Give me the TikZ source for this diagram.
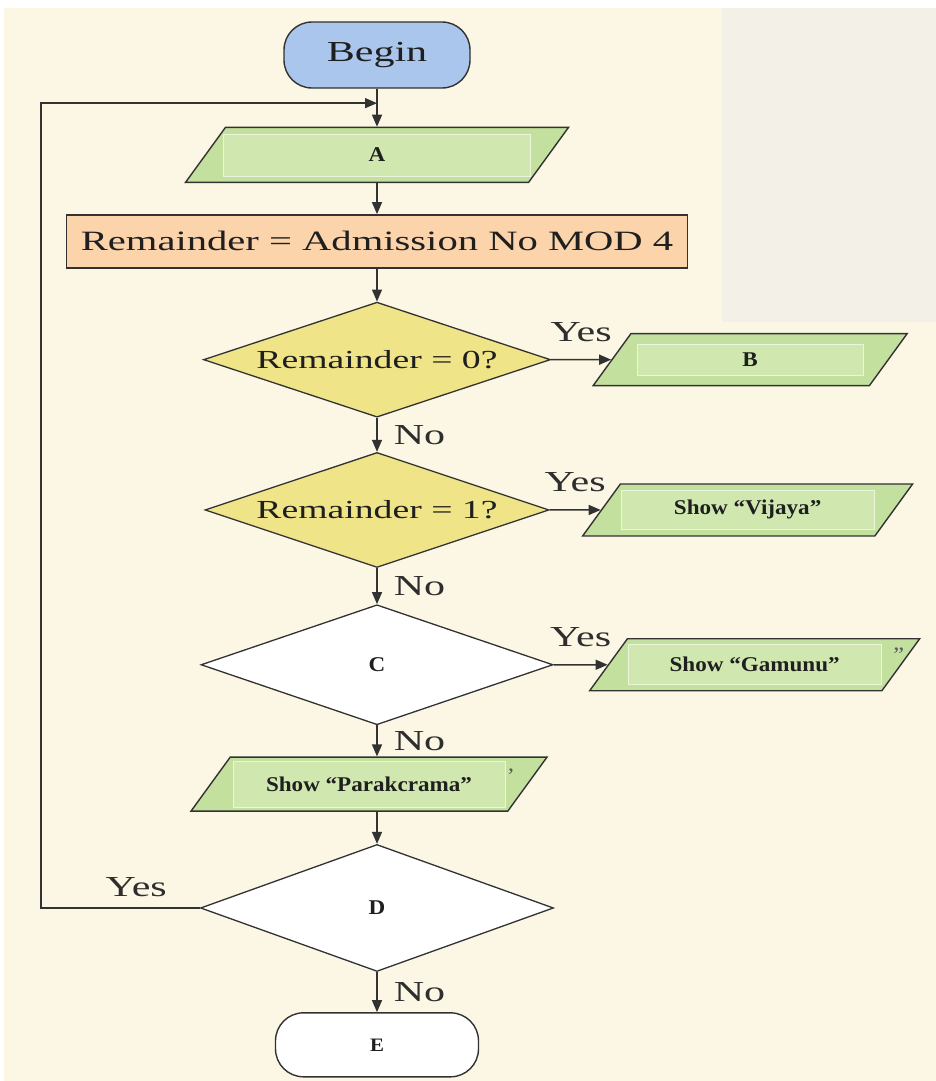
\documentclass[tikz,border=0pt]{standalone}
\usepackage{fontspec}
\setmainfont{Liberation Serif}[FakeStretch=1.45]
\newfontfamily\boxfont{Liberation Serif}[FakeStretch=1.1]
\usepackage{tikz}
\usetikzlibrary{shapes.geometric,arrows.meta,positioning,calc}
\definecolor{paper}{RGB}{251,247,228}
\definecolor{panel}{RGB}{243,240,232}
\definecolor{ink}{RGB}{50,50,50}
\definecolor{startblue}{RGB}{170,198,236}
\definecolor{peach}{RGB}{252,212,172}
\definecolor{khaki}{RGB}{240,228,136}
\definecolor{iogreen}{RGB}{196,224,158}
\definecolor{iolight}{RGB}{208,232,176}
\newcommand{\lblfont}{\boxfont\bfseries\fontsize{21}{24}\selectfont}
\newcommand{\iohigh}[1]{\rule{0pt}{#1}}

\begin{document}
\begin{tikzpicture}[x=1pt,y=1pt,
  term/.style={draw=ink,line width=1.4pt,rounded corners=28pt,minimum width=186pt,
    minimum height=66pt,text=black!88,font=\fontsize{29}{32}\selectfont},
  io/.style={trapezium,trapezium left angle=54,trapezium right angle=126,
    trapezium stretches body=true,draw=ink,line width=1.4pt,fill=iogreen,inner sep=2pt},
  iobox/.style={fill=iolight,draw=white!55!iolight,line width=0.8pt,inner sep=0pt,
    text=black!88,font=\lblfont},
  proc/.style={draw=ink,line width=1.4pt,fill=peach,minimum width=621pt,
    minimum height=53pt,text=black!88,font=\fontsize{28}{32}\selectfont},
  test/.style={diamond,aspect=3,inner sep=0pt,draw=ink,line width=1.3pt,text=black!88},
  arr/.style={-{Triangle[length=12pt,width=10pt]},line width=1.5pt,ink},
  ans/.style={font=\fontsize{29}{32}\selectfont,text=black!82,inner sep=2pt},
  stray/.style={font=\boxfont\fontsize{22}{24}\selectfont,text=black!65,inner sep=0pt},
  node distance=35pt,
]
  \useasboundingbox (0,0) rectangle (936,-1081);
  \fill[white] (0,0) rectangle (936,-1081);
  \fill[paper] (4,-8) rectangle (936,-1081);
  \fill[panel] (722,-8) rectangle (936,-322);

  \node[term,fill=startblue] (begin) at (377,-55) {Begin};
  \node[io,minimum width=383pt,below=38pt of begin] (a) {\iohigh{51pt}};
  \node[iobox,minimum width=307pt,minimum height=42pt] (a-txt) at (a) {A};
  \node[proc,below=31pt of a] (rem) {Remainder = Admission No MOD 4};
  \node[test,fill=khaki,minimum width=347pt,minimum height=115pt,below=33pt of rem,
    font=\fontsize{26}{30}\selectfont] (zero) {Remainder = 0?};
  \node[io,minimum width=314pt,right=60pt of zero] (b) {\iohigh{48pt}};
  \node[iobox,minimum width=226pt,minimum height=31pt] (b-txt) at (b) {B};
  \node[test,fill=khaki,minimum width=344pt,minimum height=115pt,below=34pt of zero,
    font=\fontsize{26}{30}\selectfont] (one) {Remainder = 1?};
  \node[io,minimum width=330pt,right=51pt of one] (vij) {\iohigh{48pt}};
  \node[iobox,minimum width=253pt,minimum height=39pt] (vij-txt) at (vij) {Show “Vijaya”};
  \node[test,fill=white,minimum width=352pt,minimum height=120pt,below=36pt of one,
    font=\lblfont] (c) {C};
  \node[io,minimum width=330pt,right=54pt of c] (gam) {\iohigh{48pt}};
  \node[iobox,minimum width=253pt,minimum height=40pt] (gam-txt) at (gam) {Show “Gamunu”};
  \node[stray] (gam-q) at ($(gam)+(144pt,10pt)$) {”};
  \node[io,minimum width=356pt,below=31pt of c,xshift=-8pt] (par) {\iohigh{50pt}};
  \node[iobox,minimum width=272pt,minimum height=46pt] (par-txt) at (par) {Show “Parakcrama”};
  \node[stray] (par-q) at ($(par)+(142pt,8pt)$) {’};
  \node[test,fill=white,minimum width=353pt,minimum height=127pt,below=32pt of par,
    xshift=8pt,font=\lblfont] (d) {D};
  \node[term,fill=white,minimum width=203pt,minimum height=64pt,below=40pt of d,
    font=\boxfont\bfseries\fontsize{19}{22}\selectfont] (e) {E};

  \coordinate (merge) at ($(begin.south)!0.38!(a.north)$);
  \draw[arr] (begin) -- (a);
  \draw[arr] (a) -- (rem);
  \draw[arr] (rem) -- (zero);
  \draw[arr] (zero) -- node[ans,above=15pt]{Yes} (b);
  \draw[arr] (zero) -- node[ans,right=14pt]{No} (one);
  \draw[arr] (one) -- node[ans,above=15pt]{Yes} (vij);
  \draw[arr] (one) -- node[ans,right=14pt]{No} (c);
  \draw[arr] (c) -- node[ans,above=15pt]{Yes} (gam);
  \draw[arr] (c) -- node[ans,right=14pt]{No} (c.south |- par.north);
  \draw[arr] (par.south -| d.north) -- (d);
  \draw[arr] (d) -- node[ans,right=14pt]{No} (e);
  \draw[arr] (d.west) -- node[ans,above=8pt,pos=0.4]{Yes} ++(-159pt,0) |- (merge);
\end{tikzpicture}
\end{document}
